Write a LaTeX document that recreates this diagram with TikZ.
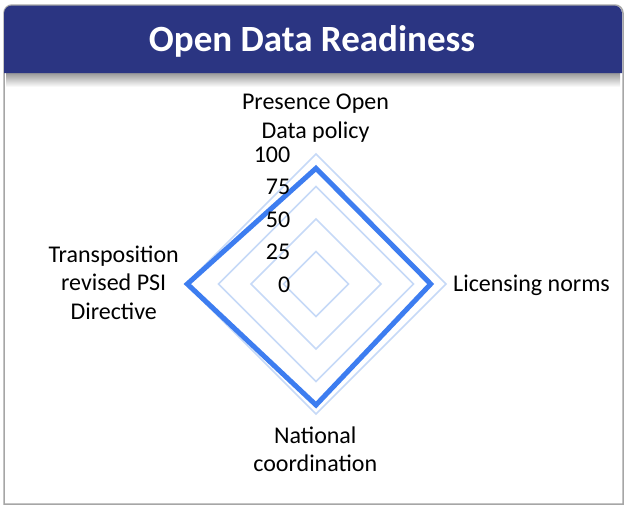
\documentclass[tikz,border=0pt]{standalone}
\usepackage{fontspec}
\setmainfont{Carlito}
\usetikzlibrary{calc}
\definecolor{hdr}{RGB}{43,53,130}
\definecolor{gridc}{RGB}{198,217,247}
\definecolor{datc}{RGB}{61,125,240}
\definecolor{brd}{RGB}{166,166,166}
\begin{document}
\begin{tikzpicture}[x=1pt,y=-1pt,
  lab/.style={font=\fontsize{24}{28.5}\selectfont, align=center, inner sep=0pt, text=black},
  tick/.style={font=\fontsize{24}{28}\selectfont, inner sep=0pt, anchor=base east},
  ring/.style={draw=gridc, line width=1.6pt},
  series/.style={draw=datc, line width=5pt, miter limit=10}]
\useasboundingbox (0,0) rectangle (624,506);
\fill[white] (0,0) rectangle (624,506);
% header shadow
\shade[top color=black!40, bottom color=white] (6,73) rectangle (620,87);
% outer frame
\draw[brd, line width=1.5pt] (4,504) [rounded corners=8pt] -- (4,5) -- (623,5) [sharp corners] -- (623,504) -- cycle;
% header bar
\fill[hdr] (4,73) [rounded corners=8pt] -- (4,5.5) -- (622,5.5) [sharp corners] -- (622,73) -- cycle;
\node[font=\fontsize{37}{42}\selectfont\bfseries, text=white, inner sep=0pt, anchor=base] (title) at (312,51.5) {Open Data Readiness};
% radar grid
\coordinate (c) at (316,284);
\foreach \r in {32.5,65,97.5,130}{
  \draw[ring] ($(c)+(0,-\r)$) -- ($(c)+(\r,0)$) -- ($(c)+(0,\r)$) -- ($(c)+(-\r,0)$) -- cycle;
}
% data series
\coordinate (dT) at (316,168.3);
\coordinate (dR) at (430.7,284);
\coordinate (dB) at (316,405);
\coordinate (dL) at (187.3,284);
\draw[series] (dT) -- (dR) -- (dB) -- (dL) -- cycle;
% tick labels
\node[tick] (t100) at (290.5,162.7) {100};
\node[tick] (t75) at (290.5,194.5) {75};
\node[tick] (t50) at (290.5,227) {50};
\node[tick] (t25) at (290.5,259.5) {25};
\node[tick] (t0) at (290.5,292) {0};
% axis labels (base anchor = last line baseline)
\node[lab, anchor=base] (lpres) at (315.5,138) {Presence Open\\Data policy};
\node[lab, anchor=base west] (llic) at (453,291.7) {Licensing norms};
\node[lab, anchor=base] (ltra) at (113.7,319.3) {Transposition\\revised PSI\\Directive};
\node[lab, anchor=base] (lnat) at (315.3,471.7) {National\\coordination};
\end{tikzpicture}
\end{document}
